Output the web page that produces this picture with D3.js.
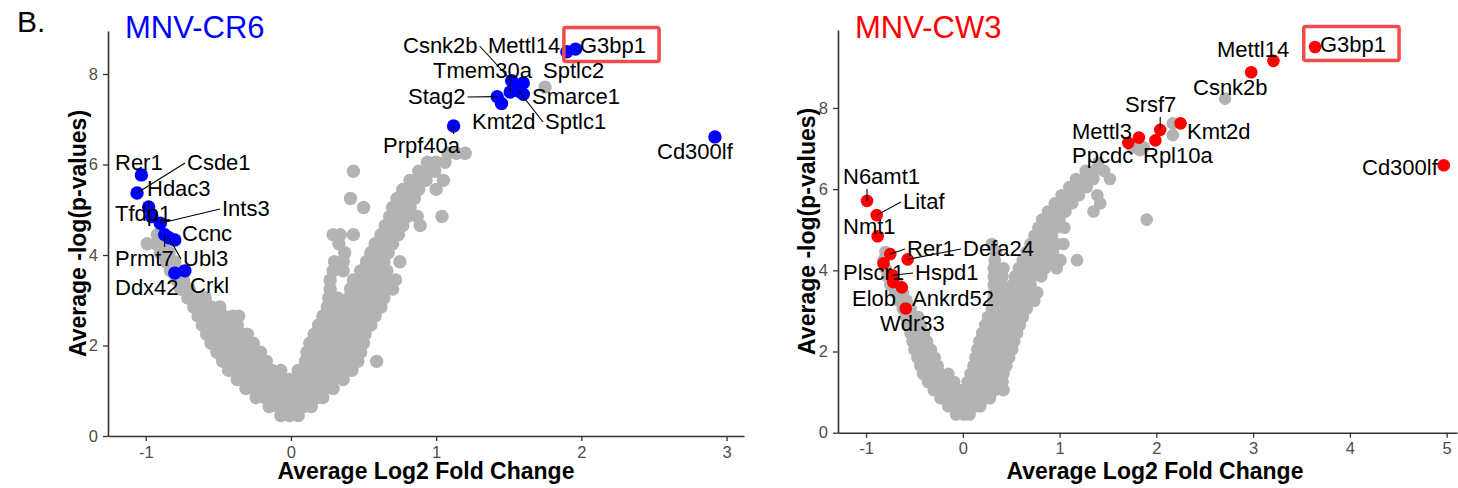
<!DOCTYPE html>
<html><head><meta charset="utf-8">
<script src="https://cdn.jsdelivr.net/npm/d3@7"></script>
<style>body{margin:0;background:#fff}svg{display:block}text{font-family:"Liberation Sans",Arial,sans-serif}</style>
</head><body><svg id="c" width="1458" height="488"></svg>
<script>
// ---------------- DATA ----------------
const yTicks = [0, 2, 4, 6, 8];
const cr6XTicks = [-1, 0, 1, 2, 3];
const cw3XTicks = [-1, 0, 1, 2, 3, 4, 5];

// MNV-CR6 background genes, grouped by -log(p) row: [y, [log2FC ...]]
const cr6GrayRows = [
  [0.45, [-0.07,-0.01,0.05]],
  [0.65, [-0.15,-0.09,-0.03,0.03,0.09,0.14]],
  [0.85, [-0.24,-0.18,-0.12,-0.06,0.00,0.06,0.12,0.18,0.22]],
  [1.05, [-0.31,-0.25,-0.19,-0.13,-0.07,-0.01,0.05,0.11,0.17,0.23,0.29]],
  [1.25, [-0.37,-0.31,-0.25,-0.19,-0.13,-0.07,-0.01,0.05,0.11,0.17,0.23,0.29,0.36]],
  [1.45, [-0.43,-0.37,-0.31,-0.25,-0.19,-0.13,-0.07,0.05,0.11,0.17,0.23,0.29,0.35,0.42]],
  [1.65, [-0.47,-0.41,-0.35,-0.29,-0.23,-0.17,0.10,0.16,0.22,0.28,0.34,0.40,0.46,0.59]],
  [1.85, [-0.51,-0.45,-0.39,-0.33,-0.27,-0.21,0.11,0.17,0.23,0.29,0.35,0.41,0.48]],
  [2.05, [-0.55,-0.49,-0.43,-0.37,-0.31,-0.26,0.13,0.19,0.25,0.31,0.37,0.43,0.50]],
  [2.25, [-0.58,-0.52,-0.46,-0.40,-0.34,-0.30,0.16,0.22,0.28,0.34,0.40,0.46,0.51]],
  [2.45, [-0.61,-0.55,-0.49,-0.43,-0.37,0.19,0.25,0.31,0.37,0.43,0.49,0.55]],
  [2.65, [-0.64,-0.58,-0.52,-0.46,-0.40,-0.36,0.22,0.28,0.34,0.40,0.46,0.52,0.58]],
  [2.85, [-0.67,-0.61,-0.55,-0.49,0.25,0.31,0.37,0.43,0.49,0.55,0.62]],
  [3.05, [-0.71,-0.65,-0.59,0.26,0.32,0.40,0.46,0.52,0.58,0.64]],
  [3.25, [-0.76,-0.70,0.27,0.41,0.47,0.53,0.59,0.65,0.70]],
  [3.45, [-0.79,-0.74,0.27,0.43,0.49,0.55,0.61,0.67,0.72]],
  [3.65, [-0.83,-0.77,0.29,0.36,0.48,0.54,0.60,0.66]],
  [3.85, [-0.86,-0.80,0.30,0.36,0.52,0.58,0.64,0.75]],
  [4.05, [-0.90,-0.84,0.37,0.55,0.61,0.67]],
  [4.25, [-0.99,-0.93,-0.87,0.33,0.58,0.64,0.70]],
  [4.45, [-0.92,0.29,0.34,0.43,0.62,0.68,0.74]],
  [4.65, [0.65,0.71,0.77,0.89]],
  [4.85, [0.68,0.74,0.80,0.87,1.04]],
  [5.05, [0.50,0.70,0.76,0.82]],
  [5.25, [0.41,0.73,0.79,0.85]],
  [5.45, [0.77,0.82,0.88,1.00]],
  [5.65, [0.82,0.87,0.93,1.05]],
  [5.85, [0.43,0.88,0.94,0.99]],
  [6.05, [0.94,1.00,1.06]],
  [6.25, [1.08,1.14,1.20]],
  [7.71, [1.75]]
];

// MNV-CW3 background genes
const cw3GrayRows = [
  [0.45, [-0.07,0.01,0.07]],
  [0.65, [-0.15,-0.06,0.03,0.12,0.18]],
  [0.85, [-0.23,-0.14,-0.05,0.04,0.13,0.22,0.28]],
  [1.05, [-0.30,-0.21,-0.12,-0.03,0.06,0.15,0.24,0.33,0.42]],
  [1.25, [-0.36,-0.27,-0.18,-0.09,0.05,0.14,0.23,0.32,0.41]],
  [1.45, [-0.41,-0.32,-0.23,-0.15,0.08,0.17,0.26,0.35,0.42]],
  [1.65, [-0.44,-0.35,-0.26,0.11,0.20,0.29,0.38,0.45]],
  [1.85, [-0.47,-0.38,-0.29,0.13,0.22,0.31,0.40,0.48]],
  [2.05, [-0.50,-0.41,-0.33,0.15,0.24,0.33,0.42,0.51]],
  [2.25, [-0.52,-0.44,-0.37,0.17,0.26,0.35,0.44,0.53]],
  [2.45, [-0.54,-0.46,-0.40,0.20,0.29,0.38,0.47,0.56]],
  [2.65, [-0.57,-0.49,-0.43,0.23,0.32,0.41,0.50,0.59]],
  [2.85, [-0.59,-0.51,-0.46,0.26,0.35,0.44,0.53,0.62]],
  [3.05, [-0.62,-0.54,0.30,0.39,0.48,0.57,0.66]],
  [3.25, [-0.66,-0.58,0.31,0.40,0.49,0.58,0.67,0.74]],
  [3.45, [-0.70,-0.62,0.32,0.41,0.50,0.59,0.68,0.77]],
  [3.65, [-0.75,-0.67,0.32,0.41,0.52,0.61,0.70]],
  [3.85, [-0.78,0.32,0.41,0.54,0.63,0.72,0.81]],
  [4.05, [-0.80,0.32,0.42,0.58,0.67,0.76,0.85,0.97]],
  [4.25, [-0.82,0.33,0.62,0.71,0.80,0.89,1.01,1.18]],
  [4.45, [-0.80,0.34,0.66,0.75,0.84,0.93]],
  [4.65, [0.30,0.70,0.79,0.88,0.97,1.04]],
  [4.85, [0.74,0.83,0.92]],
  [5.05, [0.78,0.87,0.96,1.05]],
  [5.25, [0.82,0.91,1.00,1.90]],
  [5.45, [0.88,0.97,1.06,1.35]],
  [5.65, [0.95,1.04,1.13,1.42]],
  [5.85, [1.02,1.11,1.20,1.39]],
  [6.05, [1.10,1.19,1.28]],
  [6.25, [1.17,1.26,1.35,1.52]],
  [6.45, [1.27,1.36,1.46]],
  [6.65, [1.40]],
  [6.96, [1.83]],
  [7.03, [1.87,1.75]],
  [7.33, [2.17]],
  [7.62, [2.17]],
  [8.23, [2.71]]
];

// highlighted genes
const cr6Genes = ["G3bp1","Mettl14","Csnk2b","Sptlc2","Tmem30a","Sptlc1","Smarce1","Stag2","Kmt2d","Prpf40a","Cd300lf","Rer1","Csde1","Hdac3","Tfdp1","Ints3","Prmt7","Ubl3","Ccnc","Ddx42","Crkl"];
const cr6FC   = [1.96,1.90,1.52,1.60,1.51,1.57,1.60,1.42,1.45,1.12,2.92,-1.03,-1.06,-0.98,-0.96,-0.90,-0.87,-0.84,-0.80,-0.80,-0.73];
const cr6LogP = [8.55,8.49,7.85,7.80,7.60,7.62,7.55,7.50,7.35,6.85,6.61,5.77,5.37,5.06,4.85,4.70,4.45,4.38,4.33,3.60,3.65];

const cw3Genes = ["G3bp1","Mettl14","Csnk2b","Kmt2d","Srsf7","Rpl10a","Mettl3","Ppcdc","Cd300lf","N6amt1","Litaf","Nmt1","Rer1","Defa24","Plscr1","Hspd1","Elob","Ankrd52","Wdr33"];
const cw3FC   = [3.64,3.21,2.98,2.25,2.04,1.99,1.82,1.71,4.97,-0.99,-0.89,-0.88,-0.75,-0.57,-0.82,-0.73,-0.72,-0.63,-0.59];
const cw3LogP = [9.50,9.16,8.88,7.62,7.46,7.20,7.27,7.14,6.59,5.71,5.36,4.84,4.40,4.27,4.17,3.88,3.71,3.58,3.06];

// ---------------- LAYOUT (label placement, px) ----------------
const cr6Layout = {G3bp1:[580,53],Mettl14:[488,53],Csnk2b:[403,53],Tmem30a:[433,78],Sptlc2:[543,78],Stag2:[408,104],Smarce1:[532,104],Kmt2d:[472,129],Sptlc1:[545,129],Prpf40a:[383,153],Cd300lf:[657,159],Rer1:[115,170],Csde1:[187,170],Hdac3:[147,196],Tfdp1:[115,221],Ints3:[222,216],Ccnc:[182,241],Prmt7:[115,266],Ubl3:[183,266],Ddx42:[115,295],Crkl:[190,293]};
const cr6Seg = ["Csnk2b","Tmem30a","Stag2","Sptlc1","Prpf40a","Csde1","Hdac3","Ints3","Prmt7","Ubl3"];
const cw3Layout = {G3bp1:[1320,52],Mettl14:[1217,57],Csnk2b:[1193,95],Srsf7:[1125,112],Kmt2d:[1187,139],Rpl10a:[1143,163],Mettl3:[1072,139],Ppcdc:[1072,163],Cd300lf:[1362,175],N6amt1:[843,184],Litaf:[903,209],Nmt1:[843,234],Rer1:[907,256],Defa24:[963,256],Plscr1:[843,280],Hspd1:[915,280],Elob:[852,306],Ankrd52:[912,306],Wdr33:[880,331]};
const cw3Seg = ["Srsf7","N6amt1","Litaf","Rer1","Defa24","Hspd1"];

const svg = d3.select("#c");

svg.append("text").attr("x",17).attr("y",32).attr("font-size",30).attr("fill","#000").text("B.");

function panel(cfg){
  const x = d3.scaleLinear().domain(cfg.xDomain).range(cfg.xRange);
  const y = d3.scaleLinear().domain(cfg.yDomain).range(cfg.yRange);
  const g = svg.append("g");

  const gray = [];
  cfg.grayRows.forEach(([yy, xs]) => xs.forEach(xx => gray.push([xx, yy])));
  g.append("g").selectAll("circle").data(gray).join("circle")
    .attr("cx", d => x(d[0])).attr("cy", d => y(d[1])).attr("r", cfg.r).attr("fill", "#b3b3b3");

  // axes
  const ax = g.append("g").attr("transform", `translate(0,${cfg.yRange[0]})`)
    .call(d3.axisBottom(x).tickValues(cfg.xTicks).tickSize(5).tickSizeOuter(0).tickPadding(5).tickFormat(d => String(d)));
  const ay = g.append("g").attr("transform", `translate(${cfg.xRange[0]},0)`)
    .call(d3.axisLeft(y).tickValues(yTicks).tickSize(5).tickSizeOuter(0).tickPadding(5).tickFormat(d => String(d)));
  [ax, ay].forEach(a => {
    a.select(".domain").attr("stroke", "#333").attr("stroke-width", 1.6);
    a.selectAll(".tick line").attr("stroke", "#333").attr("stroke-width", 1.3);
    a.selectAll(".tick text").attr("fill", "#4d4d4d").attr("font-size", 16.5).attr("font-family", '"Liberation Sans",Arial,sans-serif');
  });

  // title
  g.append("text").attr("x", cfg.titleX).attr("y", 38).attr("font-size", 31).attr("fill", cfg.color).text(cfg.title);
  // axis titles
  g.append("text").attr("x", cfg.xTitleX).attr("y", 479).attr("text-anchor","middle")
    .attr("font-size", 23).attr("font-weight","bold").attr("fill","#000").text("Average Log2 Fold Change");
  g.append("text").attr("transform", `translate(${cfg.yTitleX},${(cfg.yRange[0]+cfg.yRange[1])/2}) rotate(-90)`)
    .attr("text-anchor","middle").attr("font-size", 23).attr("font-weight","bold").attr("fill","#000").text("Average -log(p-values)");

  // highlighted points
  const hi = cfg.genes.map((n, i) => ({name: n, fc: cfg.fc[i], p: cfg.lp[i]}));
  g.append("g").selectAll("circle").data(hi).join("circle")
    .attr("cx", d => x(d.fc)).attr("cy", d => y(d.p)).attr("r", cfg.r).attr("fill", cfg.color);

  // labels
  const lg = g.append("g");
  hi.forEach(d => {
    const pos = cfg.layout[d.name];
    const t = lg.append("text").attr("x", pos[0]).attr("y", pos[1]).attr("font-size", 22).attr("fill", "#000").text(d.name);
    const b = t.node().getBBox();
    const px = x(d.fc), py = y(d.p);
    if (cfg.seg.includes(d.name)) {
      const bx0 = b.x - 2, bx1 = b.x + b.width + 2, by0 = b.y + 1, by1 = b.y + b.height;
      let sx, sy;
      if (px < bx0) { sx = bx0; sy = (by0 + by1) / 2; }
      else if (px > bx1) { sx = bx1; sy = (by0 + by1) / 2; }
      else { sx = px; sy = py < by0 ? by0 : by1; }
      lg.append("line").attr("x1", sx).attr("y1", sy).attr("x2", px).attr("y2", py)
        .attr("stroke", "#000").attr("stroke-width", 1.1);
    }
    if (d.name === cfg.boxed) {
      const left = px - cfg.r - 5, right = b.x + b.width + 13;
      const cy = b.y + b.height / 2 - 1;
      lg.append("rect").attr("x", left).attr("y", cy - 17).attr("width", right - left).attr("height", 34)
        .attr("rx", 2).attr("fill", "none").attr("stroke", "#f24b4b").attr("stroke-width", 3.5);
    }
  });
}

panel({
  xDomain: [-1.26, 3.12], xRange: [108, 744],
  yDomain: [0, 8.95], yRange: [436, 31],
  xTicks: cr6XTicks, grayRows: cr6GrayRows, r: 6.7,
  genes: cr6Genes, fc: cr6FC, lp: cr6LogP, layout: cr6Layout, seg: cr6Seg,
  color: "#0000ff", title: "MNV-CR6", titleX: 125, xTitleX: 426, yTitleX: 86, boxed: "G3bp1"
});
panel({
  xDomain: [-1.29, 5.107], xRange: [838, 1457],
  yDomain: [0, 9.92], yRange: [432.7, 30],
  xTicks: cw3XTicks, grayRows: cw3GrayRows, r: 6.3,
  genes: cw3Genes, fc: cw3FC, lp: cw3LogP, layout: cw3Layout, seg: cw3Seg,
  color: "#ff0000", title: "MNV-CW3", titleX: 855, xTitleX: 1155, yTitleX: 815, boxed: "G3bp1"
});
</script></body></html>
